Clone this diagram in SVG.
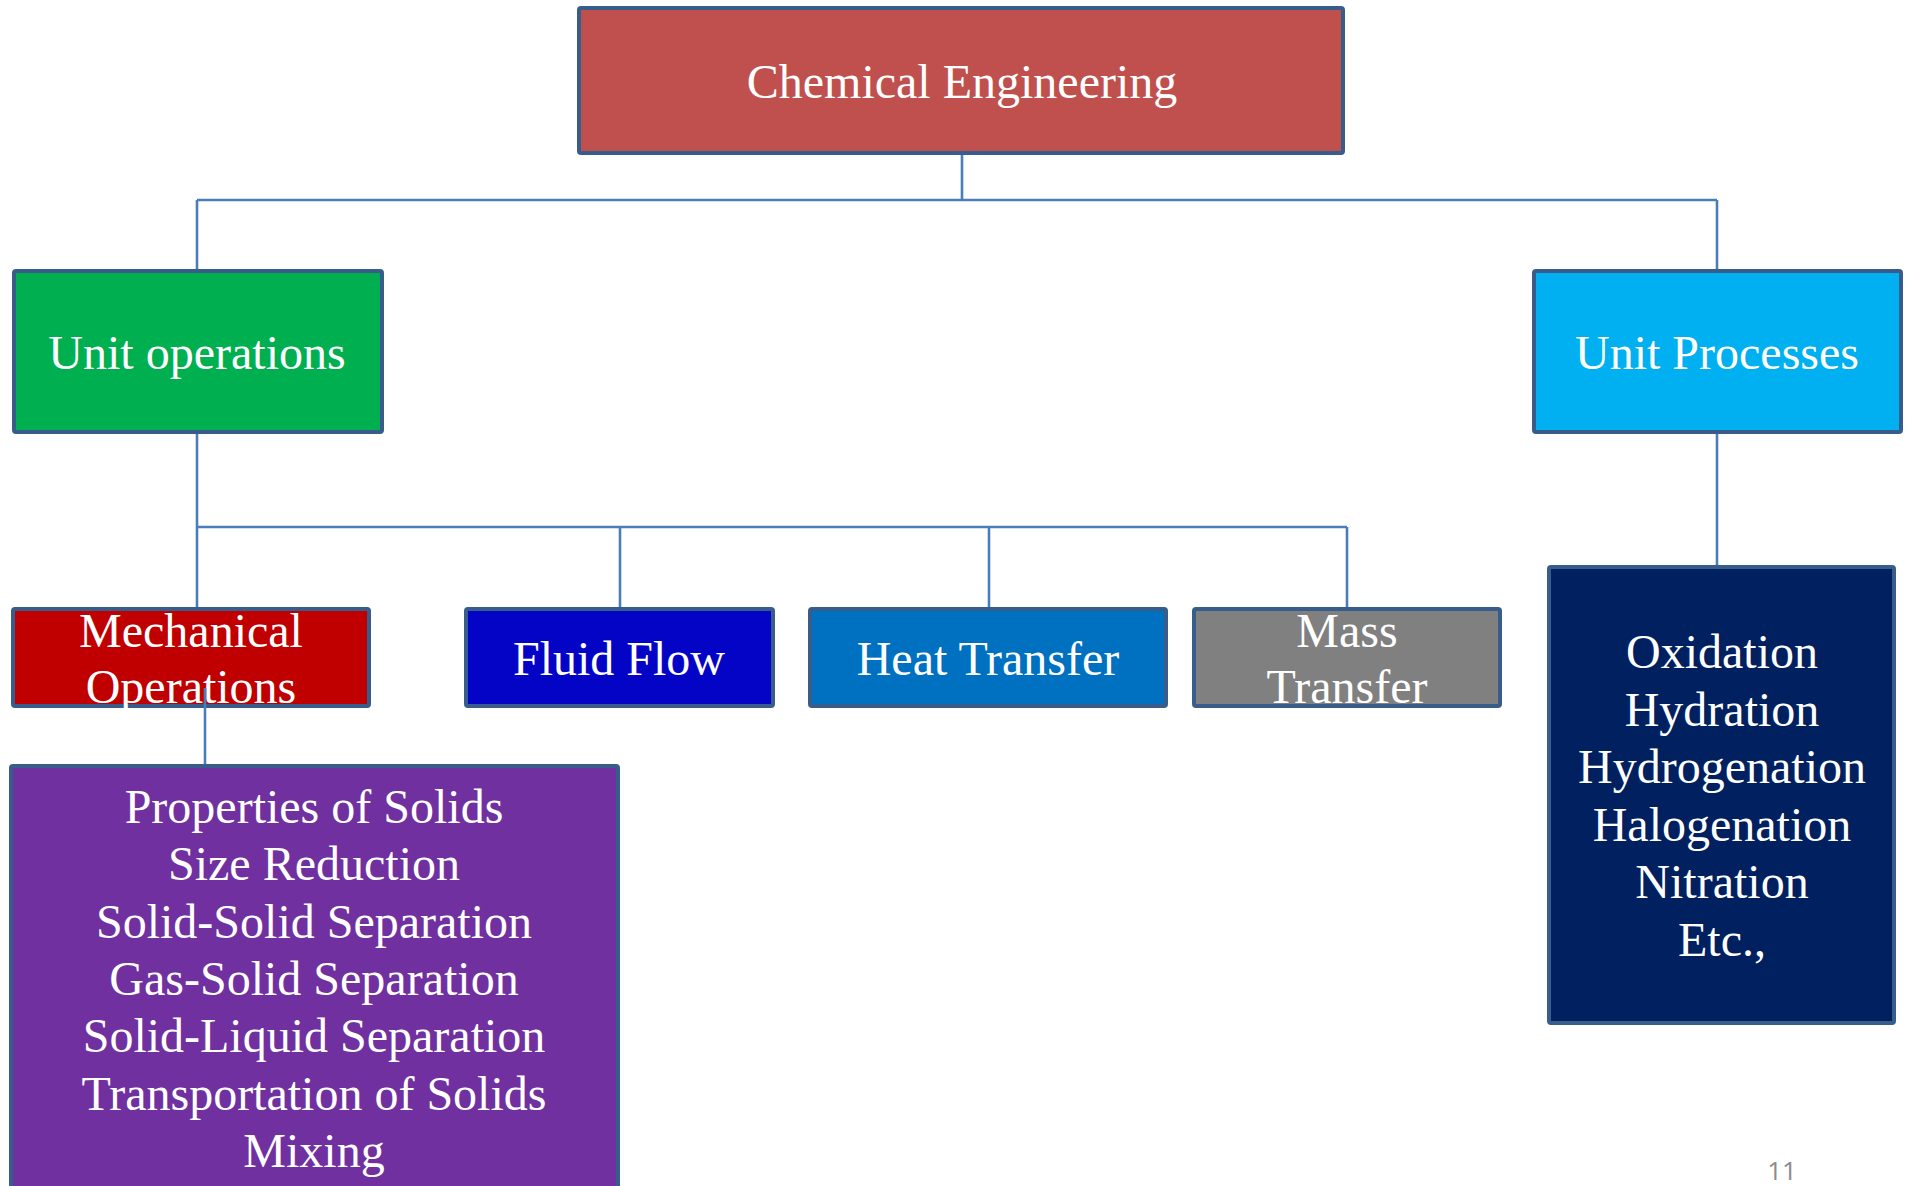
<svg xmlns="http://www.w3.org/2000/svg" width="1909" height="1186" viewBox="0 0 1909 1186">
<style>
.box{stroke:#385D8A;stroke-width:4}
.t{font-family:"Liberation Serif","Times New Roman",serif;font-size:48px;fill:#FFFFFF;text-anchor:middle}
.c{stroke:#4A7EBB;stroke-width:2.6;fill:none}
</style>
<rect width="1909" height="1186" fill="#FFFFFF"/>
<g id="chemical-engineering">
<rect class="box" x="579" y="8" width="764" height="145" rx="2" fill="#C0504D"/>
<text class="t" x="962" y="98">Chemical Engineering</text>
</g>
<g id="unit-operations">
<rect class="box" x="14" y="271" width="368" height="161" rx="2" fill="#00B050"/>
<text class="t" x="197" y="369">Unit operations</text>
</g>
<g id="unit-processes">
<rect class="box" x="1534" y="271" width="367" height="161" rx="2" fill="#00B0F0"/>
<text class="t" x="1717" y="369">Unit Processes</text>
</g>
<g id="mechanical-operations">
<rect class="box" x="13" y="609" width="356" height="97" rx="2" fill="#C00000"/>
<text class="t" x="191" y="647">Mechanical</text>
<text class="t" x="191" y="703">Operations</text>
</g>
<g id="fluid-flow">
<rect class="box" x="466" y="609" width="307" height="97" rx="2" fill="#0404C6"/>
<text class="t" x="619" y="675">Fluid Flow</text>
</g>
<g id="heat-transfer">
<rect class="box" x="810" y="609" width="356" height="97" rx="2" fill="#0070C0"/>
<text class="t" x="988" y="675">Heat Transfer</text>
</g>
<g id="mass-transfer">
<rect class="box" x="1194" y="609" width="306" height="97" rx="2" fill="#808080"/>
<text class="t" x="1347" y="647">Mass</text>
<text class="t" x="1347" y="703">Transfer</text>
</g>
<g id="mechanical-topics">
<rect class="box" x="11" y="766" width="607" height="440" rx="2" fill="#7030A0"/>
<text class="t" x="314" y="823">Properties of Solids</text>
<text class="t" x="314" y="880">Size Reduction</text>
<text class="t" x="314" y="938">Solid-Solid Separation</text>
<text class="t" x="314" y="995">Gas-Solid Separation</text>
<text class="t" x="314" y="1052">Solid-Liquid Separation</text>
<text class="t" x="314" y="1110">Transportation of Solids</text>
<text class="t" x="314" y="1167">Mixing</text>
</g>
<g id="process-topics">
<rect class="box" x="1549" y="567" width="345" height="456" rx="2" fill="#002060"/>
<text class="t" x="1722" y="668">Oxidation</text>
<text class="t" x="1722" y="726">Hydration</text>
<text class="t" x="1722" y="783">Hydrogenation</text>
<text class="t" x="1722" y="841">Halogenation</text>
<text class="t" x="1722" y="898">Nitration</text>
<text class="t" x="1722" y="956">Etc.,</text>
</g>
<g id="connectors">
<path class="c" d="M962 155V200M197 200H1717M197 200V269M1717 200V269"/>
<path class="c" d="M197 434V527M197 527H1347M197 527V607M620 527V607M989 527V607M1347 527V607"/>
<path class="c" d="M1717 434V565"/>
<path class="c" d="M205 688V764"/>
</g>
<text x="1782" y="1180" font-family="'Open Sans','Liberation Sans',sans-serif" font-size="26" fill="#8B8B8B" text-anchor="middle">11</text>
</svg>
